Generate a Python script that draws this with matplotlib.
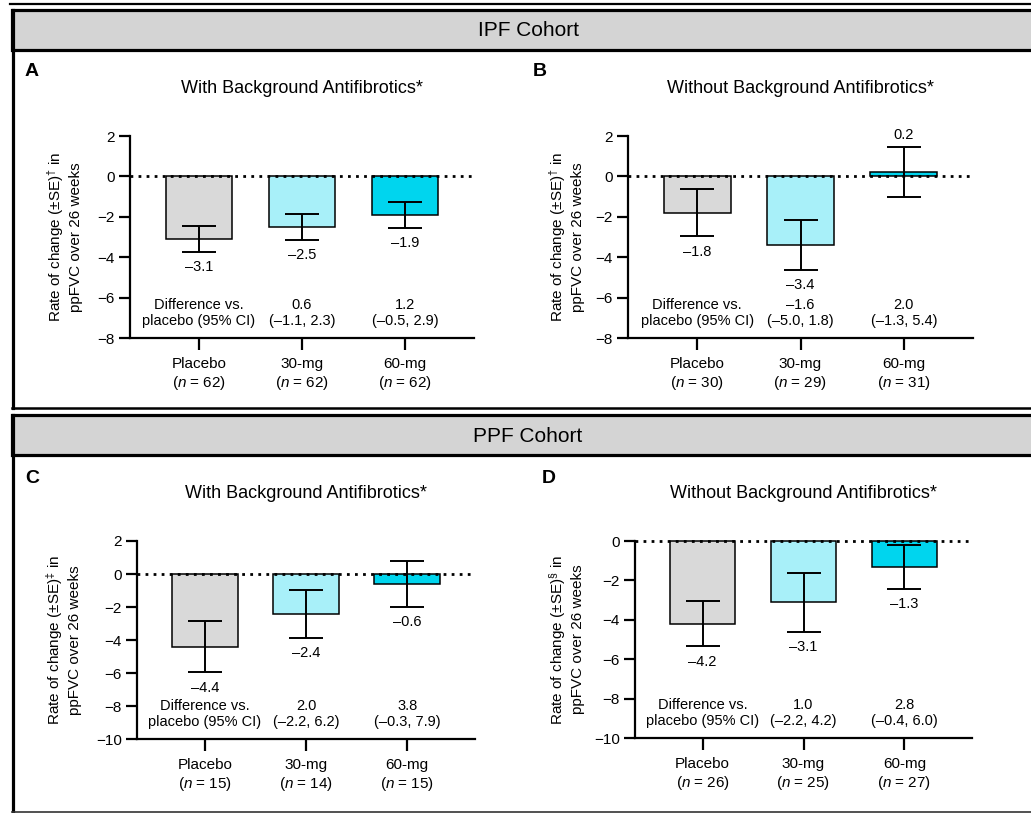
import matplotlib.pyplot as plt
from matplotlib.patches import Rectangle
from matplotlib.lines import Line2D
from matplotlib.transforms import blended_transform_factory

plt.rcParams["font.family"] = ["Liberation Sans", "DejaVu Sans"]
plt.rcParams["mathtext.fontset"] = "custom"
plt.rcParams["mathtext.rm"] = "Liberation Sans"
plt.rcParams["mathtext.it"] = "Liberation Sans:italic"
plt.rcParams["mathtext.bf"] = "Liberation Sans:bold"

# --- data ---------------------------------------------------------------
groups = ["Placebo", "30-mg", "60-mg"]
bar_colors = ["#d9d9d9", "#a8f0f9", "#00d5ee"]

ipf_with_mean = [-3.1, -2.5, -1.9]
ipf_with_se = [0.62, 0.63, 0.63]
ipf_with_n = [62, 62, 62]
ipf_with_diff = ["0.6\n(\u20131.1, 2.3)", "1.2\n(\u20130.5, 2.9)"]

ipf_without_mean = [-1.8, -3.4, 0.2]
ipf_without_se = [1.16, 1.24, 1.24]
ipf_without_n = [30, 29, 31]
ipf_without_diff = ["\u20131.6\n(\u20135.0, 1.8)", "2.0\n(\u20131.3, 5.4)"]

ppf_with_mean = [-4.4, -2.4, -0.6]
ppf_with_se = [1.55, 1.46, 1.37]
ppf_with_n = [15, 14, 15]
ppf_with_diff = ["2.0\n(\u20132.2, 6.2)", "3.8\n(\u20130.3, 7.9)"]

ppf_without_mean = [-4.2, -3.1, -1.3]
ppf_without_se = [1.15, 1.5, 1.12]
ppf_without_n = [26, 25, 27]
ppf_without_diff = ["1.0\n(\u20132.2, 4.2)", "2.8\n(\u20130.4, 6.0)"]

W, H = 1031, 813


def fx(x):
    return x / W


def fy(y):
    return 1 - y / H


def fmt(v):
    return f"{v:.1f}".replace("-", "\u2013")


fig = plt.figure(figsize=(W / 100, H / 100), dpi=100)


# --- cohort frames ------------------------------------------------------
def frame(top, bottom, label):
    fig.add_artist(Rectangle((fx(12), fy(top + 40)), fx(1040 - 12), (40) / H,
                             transform=fig.transFigure, facecolor="#d4d4d4",
                             edgecolor="black", linewidth=2.3))
    fig.add_artist(Line2D([fx(12.5), fx(12.5)], [fy(top), fy(bottom)],
                          transform=fig.transFigure, color="black", lw=2.3))
    fig.text(fx(528), fy(top + 21), label, ha="center", va="center", fontsize=15)


fig.add_artist(Line2D([fx(10), 1], [fy(4), fy(4)], transform=fig.transFigure,
                      color="black", lw=1.6))
frame(10, 408, "IPF Cohort")
fig.add_artist(Line2D([fx(12), 1], [fy(408), fy(408)], transform=fig.transFigure,
                      color="black", lw=1.8))
frame(415.5, 812, "PPF Cohort")
fig.add_artist(Line2D([fx(12), 1], [fy(812), fy(812)], transform=fig.transFigure,
                      color="#333333", lw=1.2))


# --- bar panels ---------------------------------------------------------
def panel(box, ylim, mean, se, n, diff, title, letter, letter_xy, ylab_x, mark):
    left, top, right, bottom = box
    ax = fig.add_axes([fx(left), fy(bottom), (right - left) / W, (bottom - top) / H])
    x = list(range(len(groups)))
    ax.bar(x, mean, width=0.65, color=bar_colors, edgecolor="black",
           linewidth=1.1, zorder=2, clip_on=False)
    ax.errorbar(x, mean, yerr=se, fmt="none", ecolor="black", elinewidth=1.4,
                capsize=12, capthick=1.4, zorder=3, clip_on=False)
    ax.axhline(0, color="black", lw=2, linestyle=(0, (1, 1.9)), zorder=4,
               clip_on=False)

    for i, (m, s) in enumerate(zip(mean, se)):
        if m < 0:
            ax.annotate(fmt(m), (i, m - s), xytext=(0, -6), textcoords="offset points",
                        ha="center", va="top", fontsize=10.5)
        else:
            ax.annotate(fmt(m), (i, m + s), xytext=(0, 4), textcoords="offset points",
                        ha="center", va="bottom", fontsize=10.5)

    trans = blended_transform_factory(ax.transData, ax.transAxes)
    notes = ["Difference vs.\nplacebo (95% CI)"] + diff
    for i, t in enumerate(notes):
        ax.text(i, 0.125, t, transform=trans, ha="center", va="center",
                fontsize=10.5, linespacing=1.2)

    ax.set_ylim(*ylim)
    ax.set_yticks(range(ylim[0], ylim[1] + 1, 2))
    ax.set_xlim(-0.67, 2.67)
    ax.set_xticks(x)
    ax.set_xticklabels([f"{g}\n($n$ = {k})" for g, k in zip(groups, n)])
    for lbl in ax.get_xticklabels():
        lbl.set_linespacing(1.25)
    ax.tick_params(axis="y", length=8, width=1.6, labelsize=11, pad=3)
    ax.tick_params(axis="x", length=8.5, width=1.6, labelsize=11, pad=5)
    for s in ["top", "right"]:
        ax.spines[s].set_visible(False)
    for s in ["left", "bottom"]:
        ax.spines[s].set_linewidth(1.6)

    ax.annotate(title, xy=(0.5, 1), xycoords="axes fraction", xytext=(0, 34),
                textcoords="offset points", ha="center", va="center", fontsize=13)
    fig.text(fx(letter_xy[0]), fy(letter_xy[1]), letter, fontsize=14,
             fontweight="bold", ha="left", va="center")
    fig.text(fx(ylab_x), fy((top + bottom) / 2),
             f"Rate of change (\u00b1SE)$^{{{mark}}}$ in\nppFVC over 26 weeks",
             rotation=90, ha="center", va="center", fontsize=11,
             linespacing=1.2, multialignment="center")
    return ax


panel((130, 136, 474, 338), (-8, 2), ipf_with_mean, ipf_with_se, ipf_with_n,
      ipf_with_diff, "With Background Antifibrotics*", "A", (25, 72), 64, "\u2020")
panel((628, 136, 973, 338), (-8, 2), ipf_without_mean, ipf_without_se, ipf_without_n,
      ipf_without_diff, "Without Background Antifibrotics*", "B", (533, 72), 566, "\u2020")
panel((137, 541, 475, 739), (-10, 2), ppf_with_mean, ppf_with_se, ppf_with_n,
      ppf_with_diff, "With Background Antifibrotics*", "C", (25, 478), 63, "\u2021")
panel((635, 541, 972, 738), (-10, 0), ppf_without_mean, ppf_without_se, ppf_without_n,
      ppf_without_diff, "Without Background Antifibrotics*", "D", (542, 478), 566, "\u00a7")

fig.savefig("out.png", dpi=100, facecolor="w")
